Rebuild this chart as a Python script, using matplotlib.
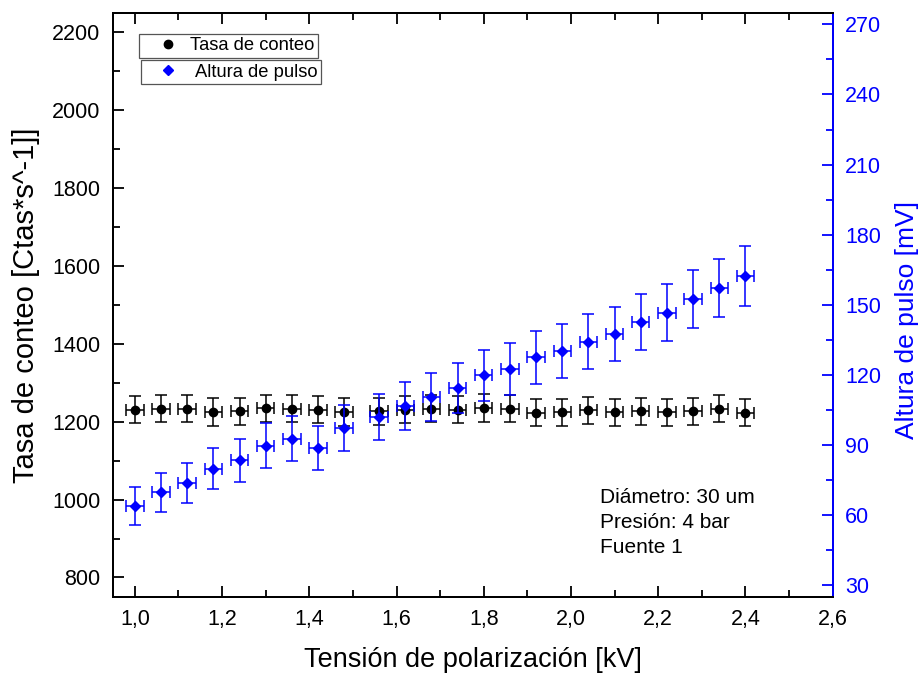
import numpy as np
import matplotlib
matplotlib.use('Agg')
from matplotlib import pyplot as plt
from matplotlib.ticker import MultipleLocator, FuncFormatter
from matplotlib.lines import Line2D

plt.rcParams['font.family'] = ['Liberation Sans', 'DejaVu Sans']

# datos
tension = [1.00, 1.06, 1.12, 1.18, 1.24, 1.30, 1.36, 1.42, 1.48, 1.56, 1.62, 1.68,
           1.74, 1.80, 1.86, 1.92, 1.98, 2.04, 2.10, 2.16, 2.22, 2.28, 2.34, 2.40]
tension_err = [0.02] * 24
tasa = [1231, 1233, 1233, 1225, 1227, 1234, 1233, 1231, 1225, 1227, 1231, 1233,
        1231, 1235, 1233, 1223, 1224, 1229, 1224, 1227, 1224, 1227, 1233, 1223]
tasa_err = [35, 35, 35, 35, 35, 35, 35, 35, 35, 35, 35, 35,
            35, 35, 35, 35, 35, 35, 35, 35, 35, 35, 35, 35]
altura = [63.9, 69.8, 73.8, 79.8, 83.5, 89.8, 92.8, 88.8, 97.3, 102.0, 106.6, 110.6,
          114.4, 119.8, 122.5, 127.5, 130.3, 134.2, 137.5, 142.7, 146.7, 152.7, 157.2, 162.4]
altura_err = [8.0, 8.3, 8.6, 8.8, 9.1, 9.5, 9.6, 9.4, 9.8, 10.0, 10.2, 10.4,
              10.7, 11.0, 11.2, 11.4, 11.4, 11.7, 11.7, 12.0, 12.0, 12.4, 12.6, 12.7]

azul = '#0000ff'
coma = FuncFormatter(lambda v, p: ('%g' % v).replace('.', ','))
coma1 = FuncFormatter(lambda v, p: ('%.1f' % v).replace('.', ','))

fig = plt.figure(figsize=(9.22, 6.75), dpi=100)
ax = fig.add_axes([0.1226, 0.1156, 0.7805, 0.8656])
ax2 = ax.twinx()

ax.errorbar(tension, tasa, yerr=tasa_err, xerr=tension_err, fmt='o', color='black',
            ms=6, elinewidth=1.1, capsize=4.3, capthick=1.1, zorder=3)
ax2.errorbar(tension, altura, yerr=altura_err, xerr=tension_err, fmt='D', color=azul,
             ms=5.5, elinewidth=1.1, capsize=4.5, capthick=1.1, zorder=3)

ax.set_xlim(0.95, 2.6)
ax.set_ylim(750, 2250)
ax2.set_ylim(25, 275)

ax.xaxis.set_major_locator(MultipleLocator(0.2))
ax.xaxis.set_minor_locator(MultipleLocator(0.1))
ax.xaxis.set_major_formatter(coma1)
ax.yaxis.set_major_locator(MultipleLocator(200))
ax.yaxis.set_minor_locator(MultipleLocator(100))
ax2.yaxis.set_major_locator(MultipleLocator(30))
ax2.yaxis.set_minor_locator(MultipleLocator(15))
ax2.yaxis.set_major_formatter(coma)

for a in (ax, ax2):
    for s in a.spines.values():
        s.set_linewidth(1.4)
ax2.spines['right'].set_color(azul)

ax.tick_params(axis='both', which='both', direction='in', top=True, right=False,
               width=1.3, labelsize=15.5)
ax.tick_params(which='major', length=8)
ax.tick_params(which='minor', length=5)
ax.tick_params(axis='y', pad=9)
ax.tick_params(axis='x', pad=9)
ax2.tick_params(axis='y', which='both', direction='in', colors=azul, width=1.3,
                labelsize=15.5, pad=9)
ax2.tick_params(which='major', length=8)
ax2.tick_params(which='minor', length=5)

ax.set_xlabel('Tensión de polarización [kV]', fontsize=19.5, labelpad=12)
ax.set_ylabel('Tasa de conteo [Ctas*s^-1]]', fontsize=21, labelpad=9)
ax2.set_ylabel('Altura de pulso [mV]', fontsize=19, color=azul)
ax2.yaxis.set_label_coords(1.087, 0.474)

ax.text(0.677, 0.187, 'Diámetro: 30 um\nPresión: 4 bar\nFuente 1', transform=ax.transAxes,
        fontsize=15, va='top', ha='left', linespacing=1.4)

h1 = Line2D([], [], ls='none', marker='o', color='black', ms=6)
h2 = Line2D([], [], ls='none', marker='D', color=azul, ms=5.5)
leg1 = ax2.legend([h1], ['Tasa de conteo'], loc='upper left', bbox_to_anchor=(0.036, 0.964),
                  borderaxespad=0, fancybox=False, edgecolor='#555555', framealpha=1,
                  fontsize=13.2, borderpad=0.2, handletextpad=-0.2, handlelength=2.8)
leg1.get_frame().set_linewidth(0.9)
ax2.add_artist(leg1)
leg2 = ax2.legend([h2], ['Altura de pulso'], loc='upper left', bbox_to_anchor=(0.039, 0.919),
                  borderaxespad=0, fancybox=False, edgecolor='#555555', framealpha=1,
                  fontsize=13.2, borderpad=0.2, handletextpad=0.15, handlelength=2.58)
leg2.get_frame().set_linewidth(0.9)

fig.savefig('out.png', dpi=100)
